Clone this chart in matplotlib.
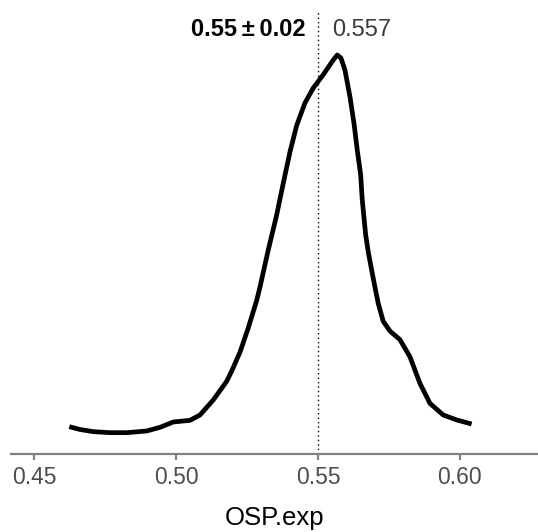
import numpy as np
import matplotlib.pyplot as plt

plt.rcParams['font.family'] = ['Liberation Sans', 'DejaVu Sans']

# density curve
osp = np.array([0.46243, 0.46620, 0.47088, 0.47676, 0.48264, 0.48968, 0.49437,
                0.49905, 0.50493, 0.50845, 0.51313, 0.51785, 0.51972, 0.52254,
                0.52535, 0.52842, 0.52958, 0.53250, 0.53546, 0.53778, 0.54014,
                0.54250, 0.54542, 0.54835, 0.55187, 0.55539, 0.55680, 0.55810,
                0.55951, 0.56127, 0.56268, 0.56384, 0.56504, 0.56560, 0.56680,
                0.56778, 0.56891, 0.57007, 0.57123, 0.57299, 0.57535, 0.57887,
                0.58239, 0.58592, 0.58944, 0.59412, 0.59894, 0.60412])
dens = np.array([0.38, 0.21, 0.08, 0.02, 0.02, 0.12, 0.34,
                 0.66, 0.76, 1.08, 1.98, 3.10, 3.75, 4.85,
                 6.25, 7.95, 8.75, 10.98, 13.08, 14.98, 16.86,
                 18.45, 19.80, 20.70, 21.50, 22.38, 22.68, 22.50,
                 21.78, 20.18, 18.60, 16.98, 15.50, 14.00, 11.90,
                 10.80, 9.78, 8.76, 7.78, 6.70, 6.12, 5.60,
                 4.58, 2.98, 1.78, 1.08, 0.78, 0.54])

mean_val = 0.55
mean_txt = '0.55\u2009\u00b1\u20090.02'
mode_txt = '0.557'

fig = plt.figure(figsize=(5.38, 5.32), dpi=100)
ax = fig.add_axes([11 / 538, 78 / 532, 527 / 538, 454 / 532])

ax.plot(osp, dens, color='black', lw=3.4, solid_capstyle='butt',
        solid_joinstyle='round')
ax.axvline(mean_val, ymin=0, ymax=(454 - 12) / 454, color='black',
           lw=1.0, linestyle=(0, (1, 2.2)))

ax.set_xlim(0.4419, 0.6275)
ax.set_ylim(-1.26, 25.98)

ax.text(mean_val - 0.0045, 24.2, mean_txt, fontsize=17,
        fontweight='bold', ha='right', va='center', color='black')
ax.text(mean_val + 0.005, 24.2, mode_txt, fontsize=17, ha='left',
        va='center', color='#3a3a3a')

for s in ['top', 'right', 'left']:
    ax.spines[s].set_visible(False)
ax.spines['bottom'].set_color('#808080')
ax.spines['bottom'].set_linewidth(1.6)
ax.set_yticks([])
ax.set_xticks([0.45, 0.50, 0.55, 0.60])
ax.set_xticklabels(['0.45', '0.50', '0.55', '0.60'])
ax.tick_params(axis='x', colors='#808080', length=4, width=1.6,
               labelsize=16.5, labelcolor='#4d4d4d', pad=5)
ax.set_xlabel('OSP.exp', fontsize=18.5, labelpad=12, color='black')

fig.savefig('out.png', dpi=100)
